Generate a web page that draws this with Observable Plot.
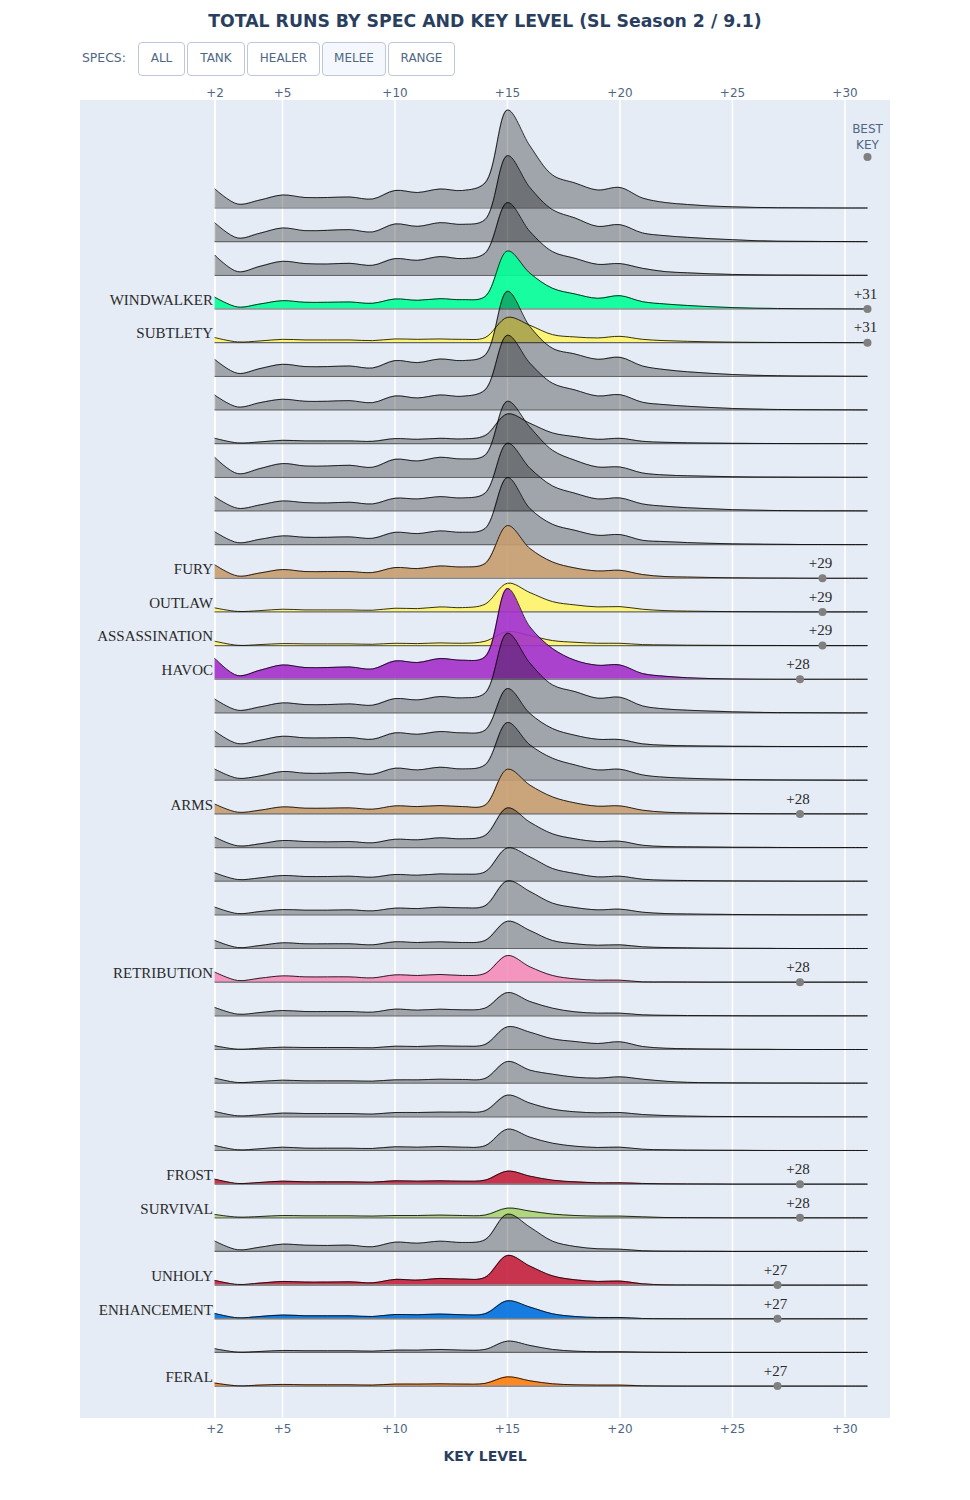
<!DOCTYPE html>
<html><head><meta charset="utf-8">
<script src="https://cdn.jsdelivr.net/npm/d3@7"></script>
<script src="https://cdn.jsdelivr.net/npm/@observablehq/plot@0.6"></script>
<style>
body{margin:0;background:#fff;font-family:"DejaVu Sans",sans-serif;color:#506784}
#head{position:relative;height:82px;width:970px}
#title{position:absolute;left:0;width:970px;top:10px;text-align:center;font:bold 17.3px "DejaVu Sans",sans-serif;color:#2a3f5f;line-height:22px}
#specs{position:absolute;left:82px;top:49px;font-size:12.4px;line-height:17px}
.btn{position:absolute;top:42px;height:32px;box-sizing:content-box;border:1px solid #bec8d9;border-radius:4px;background:#fff;color:#506784;font:12px "DejaVu Sans",sans-serif;text-align:center;line-height:30px}
.on{background:#f4f8fe}
#xlabel{text-align:center;font:bold 14px "DejaVu Sans",sans-serif;color:#2a3f5f;line-height:26px}
</style></head><body>
<div id="head"><div id="title">TOTAL RUNS BY SPEC AND KEY LEVEL (SL Season 2 / 9.1)</div><div id="specs">SPECS:</div></div>
<div id="chart"></div>
<div id="xlabel">KEY LEVEL</div>
<script>
const keyLevels = d3.range(2, 32);
const tickLevels = [2, 5, 10, 15, 20, 25, 30];

const r01=[19,4,8,13,10.5,10.5,11,9,17.5,15.5,19,17.5,25,98,62,33,25,18,20.5,10,5.5,3.5,2,1.2,.6,.3,.2,.1,0,0];
const r02=[18.7,3.7,8.5,13.7,11,11.3,12,9.7,17.7,15.3,19,17.3,22,86,54,32,23.7,15.3,17,8.7,6,4.3,3,2,1,.5,.3,.2,.1,0];
const r03=[20,3.7,9,14,11.7,11.3,12,10,16.7,15,18.7,16.7,22,72.7,43.7,23.7,17,11,11.7,7,3.7,2.5,1.5,.9,.5,.3,.2,.1,0,0];
const r04=[11.7,2,5,8.3,6.7,6.7,7,5.7,10,8.7,10.3,9.3,12.3,58,35.7,20.7,15,10.7,13.3,7.3,5,3.5,2.3,1.4,.8,.5,.3,.2,.1,0];
const r05=[5,.7,1.7,3.3,2.7,2.7,2.7,2,3.7,3.3,3.7,3.3,5,25.3,17.3,8,5.7,4.7,6.3,3.3,2,1.3,.8,.5,.3,.2,.1,.1,0,0];
const r06=[16.7,3,7.7,12,9.7,9.7,10.3,8.3,15.7,13.7,17.3,15.7,21,85,49.7,28,22.3,17,19,10.3,6.7,4.5,3,1.8,1,.6,.3,.2,.1,0];
const r07=[14.7,3,7.3,10.7,8.7,8.7,9.3,7.3,14,12,15,13.7,20,74.7,46.7,26.7,20,14,15.3,7.7,5.3,3.7,2.5,1.5,.9,.5,.3,.2,.1,0];
const r08=[5.3,.7,1.7,3.3,2.7,2.7,2.7,2.3,5,4.3,5.3,4.7,8,29.7,20.3,10.7,7,4.3,5.3,2.3,1.3,.8,.5,.3,.2,.1,0,0,0,0];
const r09=[19.7,3.7,8.7,13.7,11.3,11.3,12,10,18,16.3,20,18.3,22,76,50,27,17,10.3,10.3,4.3,2.3,1.5,1,.6,.3,.2,.1,.1,0,0];
const r10=[14,2.7,6,10,8.3,8,8.7,7,12.7,12,14.3,13,17.7,67.7,42.7,25,17.7,12,13,7,4.7,3.2,2.2,1.3,.8,.4,.2,.1,.1,0];
const r11=[12.7,2,5.3,8.7,7.3,7.3,7.7,6.3,12.3,11,13.7,12.3,16,67,36,20.3,14.3,9.3,10,4.3,3,2,1.3,.8,.5,.3,.1,.1,0,0];
const r12=[13.3,2.3,5.3,8.7,6.7,6.7,6.7,5.7,10.7,9.7,12.3,11.3,14.7,52.7,29.7,16.3,10.3,7.3,8,3.7,1.7,1.2,.8,.5,.3,.2,.1,0,0,0];
const r13=[4,.5,1.3,2.7,2,2,2,1.7,3.7,3.3,5,4.3,7.7,28.7,19.3,10.3,7,5,5.3,2.7,1.3,.8,.5,.3,.2,.1,0,0,0,0];
const r14=[4.3,.3,1,2,1.7,1.7,1.7,1.3,2.3,2,2.7,2.3,4.3,14,10,5,3.3,2.3,2.3,1,.7,.4,.3,.2,.1,.1,0,0,0,0];
const r15=[20.7,3.7,9,14.3,11.7,11.7,12.3,10.3,18.3,16.7,20.7,19,22.3,90.7,52.3,30.7,19,14,14.3,5.7,3,1.5,.7,.3,.1,0,0,0,0,0];
const r16=[13.7,2.7,6,10,8.3,8.3,9,7.7,14.3,13,16.3,15,19.7,79.7,49.7,28,21.3,14.7,15.7,7,4,2.7,1.8,1.1,.6,.3,.2,.1,0,0];
const r17=[15.3,3,6.3,10.3,8.7,8.7,9,7.3,13.7,12.3,15,13.7,16.3,58,33,18,11.3,7.3,7,2.7,1.3,.8,.5,.3,.2,.1,0,0,0,0];
const r18=[11,2,4.3,8.7,7,7,7.7,6,12,10.3,13,11.3,15.3,57.7,35.3,22,15.3,10.3,11,5.3,3,2,1.3,.8,.5,.3,.2,.1,0,0];
const r19=[9.7,1.7,3.7,7,5.7,5.7,6,4.7,8,7.3,8.3,7.3,8.7,44.7,28.7,17,11,7.7,8,3.7,1.7,1,.6,.4,.2,.1,.1,0,0,0];
const r20=[10.3,1.7,3.7,7,6,5.7,6,4.7,8.3,7.7,9.7,8.7,12,39.7,25.3,13.7,8.7,6,6.3,2.3,1,.7,.5,.3,.2,.1,0,0,0,0];
const r21=[8.3,1.7,3.3,5.7,4.7,4.7,5,4,6.7,6,7.3,7,9.3,33.3,24.3,12.7,7.7,4.3,5,2,1,.7,.4,.3,.2,.1,0,0,0,0];
const r22=[7.7,1.3,3.3,5.3,4.7,4.7,5,4,6.7,6.3,7.7,7,9,34,23.3,11.7,7.3,5,5.7,2.7,1.3,.9,.6,.4,.2,.1,0,0,0,0];
const r23=[8,1,3,5.7,4.7,4.7,4.7,3.7,6.7,6,6.7,6,8,27.3,18,8,4.7,3.3,3.7,1.7,1,.7,.4,.3,.2,.1,0,0,0,0];
const r24=[10,1.7,4,6.3,5.3,5.3,5.3,4.3,7.3,6.7,7.7,6.7,8.7,26.7,15.3,6.7,3.3,2,2,.3,.2,.1,0,0,0,0,0,0,0,0];
const r25=[8.3,1.7,3.3,5.3,4.3,4.3,4.3,3.7,6.7,5.7,6.7,6,7.7,23.3,14.3,7.7,4,2.7,2.7,1,.5,.3,.2,.1,0,0,0,0,0,0];
const r26=[3.7,.3,1.3,2.3,2,2,2,1.7,3.3,3,3.7,3.3,5,22.7,17.3,10.7,8,6,7.7,3,1.3,.8,.5,.3,.2,.1,0,0,0,0];
const r27=[5,.7,1.7,3,2.3,2.3,2.3,2,3.3,3.3,4,3.7,4.7,21.7,13,9,6,5,6.3,4,2,.8,.5,.3,.2,.1,.1,0,0,0];
const r28=[5.3,1,2,3.7,3.3,3.3,3.3,2.7,4.3,4.3,4.7,4.7,6,21.7,13.7,7.7,5,4,4.3,2.3,1.3,.7,.4,.3,.2,.1,0,0,0,0];
const r29=[5,.7,1.7,3.3,2.3,2.3,2.3,2,3.7,3.3,4,3.3,4.7,21.3,13.3,7.3,4.3,3,3.3,1.3,.7,.4,.3,.2,.1,0,0,0,0,0];
const r30=[5,.7,1.7,3,2.3,2.3,2.3,2,3.3,3,3.3,3,4,13,8,4,2.3,1.3,1.3,.7,.3,.2,.1,0,0,0,0,0,0,0];
const r31=[3.3,.7,1.3,2.3,2,2,2,1.7,2.3,2.3,2.7,2.3,2.7,9.7,6.7,3.7,2.3,1.7,1.7,1,.3,.2,.1,0,0,0,0,0,0,0];
const r32=[10.3,1.7,4.3,7.3,6.3,6,6.3,4.7,9.3,8.3,10.3,9,11.7,37.3,24.3,10.3,5,2.7,2.3,.7,.3,.2,.1,0,0,0,0,0,0,0];
const r33=[4.7,.7,2,3.7,3,3,3.3,2.3,5.7,5,6.7,6,7.7,29.7,19,9.3,5.3,3.7,4,1.3,.3,.2,.1,0,0,0,0,0,0,0];
const r34=[5.3,1,2.3,3.7,3,3,3,2.3,4.3,4,4.7,4,5,18,11.7,5,2.3,1.3,1.3,.3,.1,0,0,0,0,0,0,0,0,0];
const r35=[3.7,.3,1,2,1.7,1.7,1.7,1.3,2.3,2.3,3,2.3,3,11.3,7,3,1.3,.7,.7,.3,.1,0,0,0,0,0,0,0,0,0];
const r36=[3,.3,1,1.7,1.3,1.3,1.3,1,2,2,2.3,2,2.7,9.3,5.3,2.3,1.3,1,1,.3,.1,0,0,0,0,0,0,0,0,0];
const rowValues=[r01,r02,r03,r04,r05,r06,r07,r08,r09,r10,r11,r12,r13,r14,r15,r16,r17,r18,r19,r20,r21,r22,r23,r24,r25,r26,r27,r28,r29,r30,r31,r32,r33,r34,r35,r36];

const specNames = ["WINDWALKER","SUBTLETY","FURY","OUTLAW","ASSASSINATION","HAVOC","ARMS","RETRIBUTION","FROST","SURVIVAL","UNHOLY","ENHANCEMENT","FERAL"];
const specRows  = [3,4,11,12,13,14,18,23,29,30,32,33,35];
const specBest  = [31,31,29,29,29,28,28,28,28,28,27,27,27];
const specFills = ["#00FF96","#FFF569","#C79C6E","#FFF569","#FFF569","#A330C9","#C79C6E","#F58CBA","#C41F3B","#ABD473","#C41F3B","#0070DE","#FF7D0A"];

const buttonNames = ["ALL","TANK","HEALER","MELEE","RANGE"];
const buttonLefts = [138,187,247,322,388];
const buttonWidths = [45,56,71,62,65];
const head = document.getElementById("head");
buttonNames.forEach((n,i)=>{
  const b=document.createElement("div");
  b.className="btn"+(n==="MELEE"?" on":"");
  b.style.left=buttonLefts[i]+"px"; b.style.width=buttonWidths[i]+"px"; b.textContent=n;
  head.appendChild(b);
});

const rowStep = 33.66;
const curve = "catmull-rom";
const grey = "#000";
const marks = [
  Plot.frame({fill:"#e5ecf6"}),
  Plot.ruleX(tickLevels,{stroke:"#fff",strokeWidth:1.6}),
  Plot.ruleX([2],{stroke:"#fff",strokeWidth:2})
];
rowValues.forEach((vals,i)=>{
  const base=-i*rowStep;
  const pts=keyLevels.map((k,j)=>({key:k,base,top:base+vals[j]}));
  const si=specRows.indexOf(i);
  const colored=si>=0;
  marks.push(
    Plot.area(pts,{x1:"key",y1:"base",y2:"top",curve,fill:colored?specFills[si]:grey,fillOpacity:colored?0.9:0.3}),
    Plot.ruleY([base],{x1:keyLevels[0],x2:keyLevels[keyLevels.length-1],stroke:"#666",strokeWidth:1.2}),
    Plot.line(pts,{x:"key",y:"top",curve,stroke:"#000",strokeWidth:0.8})
  );
});
const specTable = specNames.map((name,i)=>({name,key:specBest[i],base:-specRows[i]*rowStep}));
marks.push(
  Plot.dot(specTable,{x:"key",y:"base",r:4,fill:"#808080"}),
  Plot.text(specTable,{x:"key",y:"base",text:d=>"+"+d.key,dy:-15,dx:-2,fontFamily:"Liberation Serif",fontSize:15,fill:"#2a2a2a"}),
  Plot.text(specTable,{x:keyLevels[0],y:"base",text:"name",textAnchor:"end",dx:-2,dy:-9,fontFamily:"Liberation Serif",fontSize:15,fill:"#2a2a2a"}),
  Plot.dot([{key:31,v:51}],{x:"key",y:"v",r:4,fill:"#808080"}),
  Plot.text([{key:31,v:51}],{x:"key",y:"v",text:()=>"BEST\nKEY",lineAnchor:"bottom",lineHeight:1.33,dy:-8,fontFamily:"DejaVu Sans",fontSize:12,fill:"#506784"}),
  Plot.axisX(tickLevels,{anchor:"top",tickSize:0,tickPadding:3,tickFormat:d=>"+"+d,fontFamily:"DejaVu Sans",fontSize:12,fill:"#506784",label:null}),
  Plot.axisX(tickLevels,{anchor:"bottom",tickSize:0,tickPadding:6,tickFormat:d=>"+"+d,fontFamily:"DejaVu Sans",fontSize:12,fill:"#506784",label:null})
);

const plot = Plot.plot({
  width:970,height:1361,marginTop:17.5,marginBottom:25.5,marginLeft:79.5,marginRight:80.5,
  x:{domain:[2,31],range:[214.5,867]},
  y:{domain:[108,-1210],range:[17.5,1335.5],axis:null},
  marks
});
document.getElementById("chart").appendChild(plot);
</script>
</body></html>
